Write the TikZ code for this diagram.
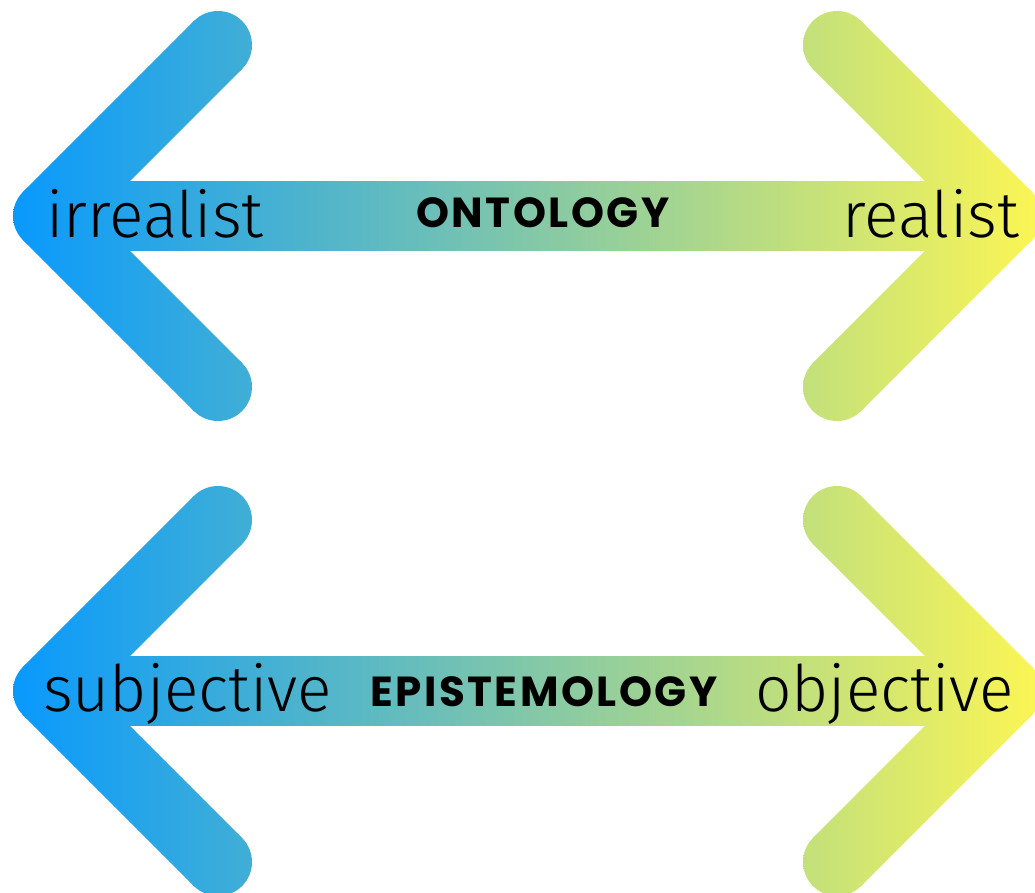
\documentclass[tikz,border=0pt]{standalone}
\usepackage{fontspec}
\newfontfamily\lightfont{Fira Sans Light}
\newfontfamily\headfont{Poppins}[LetterSpace=6]
\definecolor{cL}{RGB}{5,152,255}
\definecolor{cR}{RGB}{250,245,85}
\newcommand\gpiece[1]{\begin{scope}\clip #1;\shade[left color=cL,right color=cR] (0,0) rectangle (1035,893);\end{scope}}
\tikzset{
  lbl/.style={inner sep=0pt, font=\lightfont\fontsize{64}{70}\selectfont, text=black},
  head/.style={inner sep=0pt, font=\headfont\bfseries\fontsize{42}{46}\selectfont, text=black}
}
\begin{document}
\begin{tikzpicture}[x=1pt,y=-1pt]
\path[use as bounding box, clip] (0,0) rectangle (1035,893);
\foreach \yc in {216,691}{
  % shaft
  \gpiece{(47,\yc-34.5) rectangle (1008,\yc+34.5)}
  % left chevron arms
  \gpiece{(71.04,\yc+24.04) -- (242.04,\yc-146.96) -- (193.96,\yc-195.04) -- (22.96,\yc-24.04) -- cycle}
  \gpiece{(71.04,\yc-24.04) -- (242.04,\yc+146.96) -- (193.96,\yc+195.04) -- (22.96,\yc+24.04) -- cycle}
  % right chevron arms
  \gpiece{(1032.04,\yc-24.04) -- (861.04,\yc-195.04) -- (812.96,\yc-146.96) -- (983.96,\yc+24.04) -- cycle}
  \gpiece{(1032.04,\yc+24.04) -- (861.04,\yc+195.04) -- (812.96,\yc+146.96) -- (983.96,\yc-24.04) -- cycle}
  % round joins and caps
  \gpiece{(47,\yc) circle[radius=34]}
  \gpiece{(1008,\yc) circle[radius=34]}
  \gpiece{(218,\yc-171) circle[radius=34]}
  \gpiece{(218,\yc+171) circle[radius=34]}
  \gpiece{(837,\yc-171) circle[radius=34]}
  \gpiece{(837,\yc+171) circle[radius=34]}
}
\node[lbl, anchor=base west] (irr) at (46,237) {irrealist};
\node[lbl, anchor=base east] (real) at (1019,237) {realist};
\node[head, anchor=base] (onto) at (543,228) {ONTOLOGY};
\node[lbl, anchor=base west] (subj) at (43,711) {subjective};
\node[head, anchor=base] (epis) at (544,706) {EPISTEMOLOGY};
\node[lbl, anchor=base west] (obj) at (755,711) {objective};
\end{tikzpicture}
\end{document}
